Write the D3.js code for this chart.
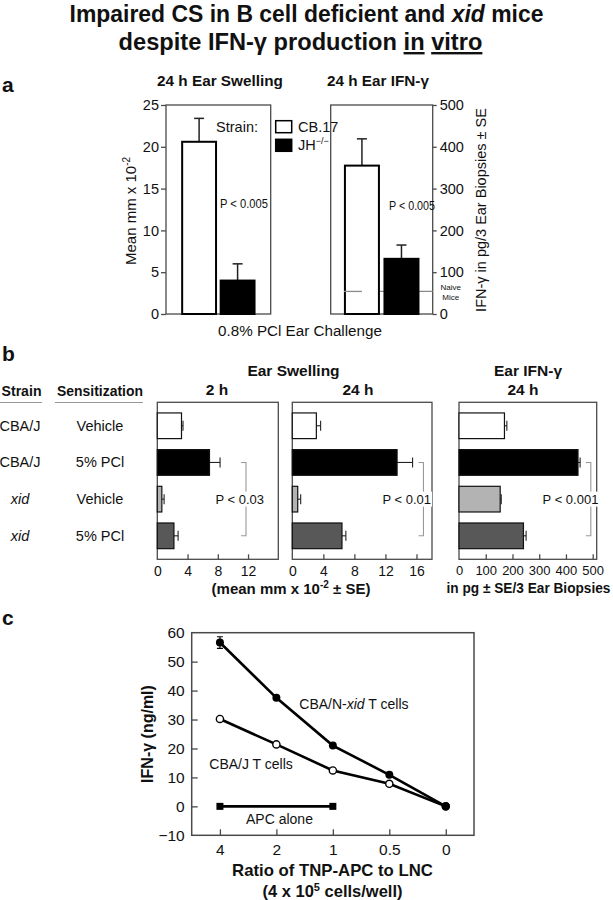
<!DOCTYPE html>
<html><head><meta charset="utf-8">
<script src="https://cdn.jsdelivr.net/npm/d3@7"></script>
<style>
body{margin:0;background:#fff}
svg{display:block}
text{font-family:"Liberation Sans",Arial,Helvetica,sans-serif;fill:#111}
</style>
</head><body>
<svg id="chart" width="613" height="900"></svg>
<script>
// ---------- DATA ----------
// Panel a
const aStrains = ["CB.17", "JH−/−"];
const aSwelling = [20.6, 4.0];
const aSwellingSE = [2.8, 2.0];
const aIFN = [355, 132];
const aIFNSE = [64, 33];
const aNaiveIFN = 54;
const aSwellTicks = [0, 5, 10, 15, 20, 25];
const aIFNTicks = [0, 100, 200, 300, 400, 500];

// Panel b
const bStrains = ["CBA/J", "CBA/J", "xid", "xid"];
const bSensitization = ["Vehicle", "5% PCl", "Vehicle", "5% PCl"];
const b2h = [3.2, 6.9, 0.6, 2.2];
const b2hSE = [0.2, 1.4, 0.3, 0.55];
const b24h = [3.1, 13.5, 0.7, 6.4];
const b24hSE = [0.55, 2.0, 0.38, 0.5];
const bIFN = [170, 445, 154, 241];
const bIFNSE = [9, 8, 4, 10];
const b2hTicks = [0, 4, 8, 12];
const b24hTicks = [0, 4, 8, 12, 16];
const bIFNTicks = [0, 100, 200, 300, 400, 500];
const bPvalues = ["P < 0.03", "P < 0.01", "P < 0.001"];

// Panel c
const cRatios = ["4", "2", "1", "0.5", "0"];
const cXid = [56.6, 37.5, 21.0, 10.9, 0];
const cXidSE = [2.0, 0, 0, 0, 0];
const cCBAJ = [30.2, 21.4, 12.4, 7.8, 0];
const cAPCRatios = ["4", "1"];
const cAPC = [0, 0];
const cYTicks = [-10, 0, 10, 20, 30, 40, 50, 60];

// ---------- DRAW ----------
const svg = d3.select("#chart");
const FRAME = "#4a4a4a";

// horizontally condense a text to a target width (keeps its anchor point fixed)
function fit(t, target) {
  const w = t.node().getComputedTextLength();
  if (!w) return t;
  const s = target / w;
  const x = +t.attr("x");
  t.attr("transform", `translate(${x},0) scale(${s},1) translate(${-x},0)`);
  return t;
}

function txt(x, y, s, size, opts = {}) {
  const t = svg.append("text").attr("x", x).attr("y", y)
    .style("font-size", size + "px")
    .attr("text-anchor", opts.anchor || "start");
  if (opts.bold) t.style("font-weight", "bold");
  if (opts.italic) t.style("font-style", "italic");
  if (s !== null) t.text(s);
  if (opts.len) fit(t, opts.len);
  return t;
}

// Title
const t1 = txt(306.5, 22, null, 24, {anchor: "middle", bold: true});
t1.append("tspan").text("Impaired CS in B cell deficient and ");
t1.append("tspan").style("font-style", "italic").text("xid");
t1.append("tspan").text(" mice");
fit(t1, 474);
const t2 = txt(300.5, 50, null, 24, {anchor: "middle", bold: true});
t2.append("tspan").text("despite IFN-γ production ");
t2.append("tspan").style("text-decoration", "underline").text("in");
t2.append("tspan").text(" ");
t2.append("tspan").style("text-decoration", "underline").text("vitro");
fit(t2, 364);

// Panel letters
txt(2, 92, "a", 21, {bold: true});
txt(2, 361, "b", 21, {bold: true});
txt(2, 625, "c", 21, {bold: true});

// ===== Panel a =====
const aTop = 105, aBot = 314;
const ayL = d3.scaleLinear().domain([0, 25]).range([aBot, aTop]);
const ayR = d3.scaleLinear().domain([0, 500]).range([aBot, aTop]);
const axL = d3.scaleBand().domain(aStrains).range([166, 270.7]).paddingInner(0.12).paddingOuter(0.42);
const axR = d3.scaleBand().domain(aStrains).range([330.7, 432.7]).paddingInner(0.14).paddingOuter(0.36);
const aFill = ["#fff", "#000"];

function aChart(xs, ys, vals, ses, side, ticks, naive) {
  const [x0, x1] = xs.range();
  svg.append("rect").attr("x", x0).attr("y", aTop).attr("width", x1 - x0).attr("height", aBot - aTop)
    .attr("fill", "none").attr("stroke", FRAME).attr("stroke-width", 1.3);
  const g = svg.append("g").attr("transform", `translate(${side === "left" ? x0 : x1},0)`);
  const axis = side === "left" ? d3.axisLeft(ys).tickSize(5).tickPadding(2) : d3.axisRight(ys).tickSize(4).tickPadding(3);
  g.call(axis.tickValues(ticks).tickFormat(d3.format("d")));
  g.select(".domain").remove();
  g.selectAll(".tick line").attr("stroke", FRAME).attr("stroke-width", 1.3);
  g.selectAll(".tick text").style("font-size", "14.5px").style("font-family", "'Liberation Sans',Arial,sans-serif").attr("fill", "#111");
  const dom = xs.domain();
  dom.forEach((k, i) => {
    const cx = xs(k) + xs.bandwidth() / 2;
    svg.append("line").attr("x1", cx).attr("x2", cx).attr("y1", ys(vals[i])).attr("y2", ys(vals[i] + ses[i]))
      .attr("stroke", "#222").attr("stroke-width", 1.5);
    svg.append("line").attr("x1", cx - 5).attr("x2", cx + 5).attr("y1", ys(vals[i] + ses[i])).attr("y2", ys(vals[i] + ses[i]))
      .attr("stroke", "#222").attr("stroke-width", 1.5);
  });
  svg.append("rect").attr("x", xs(dom[0])).attr("y", ys(vals[0])).attr("width", xs.bandwidth())
    .attr("height", aBot - ys(vals[0])).attr("fill", aFill[0]).attr("stroke", "#000").attr("stroke-width", 2);
  if (naive !== undefined) {
    const yN = ys(naive);
    const bx = xs(dom[0]), bw = xs.bandwidth();
    svg.append("line").attr("x1", bx - 1).attr("x2", bx + bw * 0.5).attr("y1", yN).attr("y2", yN)
      .attr("stroke", "#8a8a8a").attr("stroke-width", 1.3);
    svg.append("line").attr("x1", bx + bw + 1).attr("x2", x1).attr("y1", yN).attr("y2", yN)
      .attr("stroke", "#8a8a8a").attr("stroke-width", 1.3);
  }
  svg.append("rect").attr("x", xs(dom[1])).attr("y", ys(vals[1])).attr("width", xs.bandwidth())
    .attr("height", aBot - ys(vals[1])).attr("fill", aFill[1]).attr("stroke", "#000").attr("stroke-width", 2);
}
aChart(axL, ayL, aSwelling, aSwellingSE, "left", aSwellTicks);
aChart(axR, ayR, aIFN, aIFNSE, "right", aIFNTicks, aNaiveIFN);

txt(220, 86, "24 h  Ear Swelling", 15.5, {anchor: "middle", bold: true, len: 126});
txt(378, 86, "24 h  Ear IFN-γ", 15.5, {anchor: "middle", bold: true, len: 102});
txt(244, 208, "P < 0.005", 13, {anchor: "middle", len: 48});
txt(412, 210.5, "P < 0.005", 13, {anchor: "middle", len: 46});
txt(300, 336, "0.8% PCl Ear Challenge", 15.5, {anchor: "middle", len: 164});
txt(450.7, 289.5, "Naive", 8, {anchor: "middle"});
txt(450.7, 299.5, "Mice", 8, {anchor: "middle"});

// y labels panel a
const yl = svg.append("text").attr("transform", "translate(136,211) rotate(-90)")
  .attr("text-anchor", "middle").style("font-size", "15px");
yl.append("tspan").text("Mean mm x 10");
yl.append("tspan").attr("dy", -6).style("font-size", "10px").text("-2");
svg.append("text").attr("transform", "translate(486,210) rotate(-90)")
  .attr("text-anchor", "middle").style("font-size", "14.5px").text("IFN-γ in pg/3 Ear Biopsies ± SE");

// legend
txt(258, 132, "Strain:", 14.5, {anchor: "end"});
aStrains.forEach((s, i) => {
  const y = 120.7 + i * 18.6;
  svg.append("rect").attr("x", 275.7).attr("y", y).attr("width", 16).attr("height", 12)
    .attr("fill", aFill[i]).attr("stroke", "#000").attr("stroke-width", 1.5);
  const t = txt(298, y + 11, null, 14.5);
  if (i === 0) t.text(s);
  else {
    t.append("tspan").text("JH");
    t.append("tspan").attr("dy", -6).style("font-size", "9px").text("−/−");
  }
});

// ===== Panel b =====
const bTop = 402.3, bBot = 559.3;
const bIdx = d3.range(bStrains.length);
const by = d3.scaleBand().domain(bIdx).range([bTop, bBot]).paddingInner(0.3).paddingOuter(0.29);
const bFill = ["#fff", "#000", "#b3b3b3", "#585858"];

txt(21.5, 396.5, "Strain", 15.5, {anchor: "middle", bold: true, len: 40});
txt(100, 396.5, "Sensitization", 15.5, {anchor: "middle", bold: true, len: 86});
svg.append("line").attr("x1", 0).attr("x2", 42).attr("y1", 402.5).attr("y2", 402.5).attr("stroke", "#999").attr("stroke-width", 1.2);
svg.append("line").attr("x1", 55).attr("x2", 143).attr("y1", 402.5).attr("y2", 402.5).attr("stroke", "#999").attr("stroke-width", 1.2);
bIdx.forEach(i => {
  const cy = by(i) + by.bandwidth() / 2 + 5;
  txt(20, cy, bStrains[i], 14.5, {anchor: "middle", italic: bStrains[i] === "xid"});
  txt(100, cy, bSensitization[i], 14.5, {anchor: "middle"});
});

function bChart(domain, range, vals, ses, ticks, pText, bracketVal, textVal, tickFont) {
  const x = d3.scaleLinear().domain(domain).range(range);
  svg.append("rect").attr("x", range[0]).attr("y", bTop).attr("width", range[1] - range[0]).attr("height", bBot - bTop)
    .attr("fill", "none").attr("stroke", FRAME).attr("stroke-width", 1.3);
  const g = svg.append("g").attr("transform", `translate(0,${bBot})`);
  g.call(d3.axisBottom(x).tickValues(ticks).tickSizeInner(-5).tickSizeOuter(0).tickPadding(6.5).tickFormat(d3.format("d")));
  g.select(".domain").remove();
  g.selectAll(".tick line").attr("stroke", FRAME).attr("stroke-width", 1.3).filter(d => d === 0).remove();
  g.selectAll(".tick text").style("font-size", tickFont + "px").style("font-family", "'Liberation Sans',Arial,sans-serif").attr("fill", "#111");
  bIdx.forEach(i => {
    const cy = by(i) + by.bandwidth() / 2;
    svg.append("line").attr("x1", x(vals[i])).attr("x2", x(vals[i] + ses[i])).attr("y1", cy).attr("y2", cy)
      .attr("stroke", "#222").attr("stroke-width", 1.1);
    svg.append("line").attr("x1", x(vals[i] + ses[i])).attr("x2", x(vals[i] + ses[i])).attr("y1", cy - 5).attr("y2", cy + 5)
      .attr("stroke", "#222").attr("stroke-width", 1.1);
    svg.append("rect").attr("x", x(0)).attr("y", by(i)).attr("width", x(vals[i]) - x(0)).attr("height", by.bandwidth())
      .attr("fill", bFill[i]).attr("stroke", "#111").attr("stroke-width", 1.2);
  });
  const bx = x(bracketVal);
  const y1 = by(1) + by.bandwidth() / 2, y2 = by(3) + by.bandwidth() / 2;
  svg.append("path").attr("d", `M${bx - 5},${y1}H${bx}V${y2}H${bx - 5}`)
    .attr("fill", "none").attr("stroke", "#999").attr("stroke-width", 1.1);
  const cy = (by(2) + by.bandwidth() / 2);
  const t = txt(x(textVal), cy + 4.5, pText, 13, {anchor: "middle"});
  const bb = t.node().getBBox();
  svg.insert("rect", () => t.node()).attr("x", bb.x - 1).attr("y", bb.y).attr("width", bb.width + 2).attr("height", bb.height).attr("fill", "#fff");
}
bChart([0, 16], [157.3, 278.3], b2h, b2hSE, b2hTicks, bPvalues[0], 11.73, 10.9, 14);
bChart([0, 18], [292.3, 432], b24h, b24hSE, b24hTicks, bPvalues[1], 16.9, 14.75, 14);
bChart([0, 515], [459, 596.7], bIFN, bIFNSE, bIFNTicks, bPvalues[2], 493, 417, 13);

txt(293.5, 375.5, "Ear Swelling", 15.5, {anchor: "middle", bold: true});
txt(217, 395, "2 h", 15.5, {anchor: "middle", bold: true});
txt(358, 395, "24 h", 15.5, {anchor: "middle", bold: true});
txt(528, 375.5, "Ear IFN-γ", 15.5, {anchor: "middle", bold: true});
txt(523, 395, "24 h", 15.5, {anchor: "middle", bold: true});
const bl = txt(291, 593.5, null, 15, {anchor: "middle", bold: true});
bl.append("tspan").text("(mean mm x 10");
bl.append("tspan").attr("dy", -6).style("font-size", "10px").text("-2");
bl.append("tspan").attr("dy", 6).text(" ± SE)");
txt(528.5, 593.5, "in pg ± SE/3 Ear Biopsies", 15, {anchor: "middle", bold: true, len: 164});

// ===== Panel c =====
const cL = 191.7, cR = 474, cT = 632.7, cB = 835.3;
const cx = d3.scalePoint().domain(cRatios).range([cL, cR]).padding(0.5);
const cy = d3.scaleLinear().domain([-10, 60]).range([cB, cT]);
svg.append("rect").attr("x", cL).attr("y", cT).attr("width", cR - cL).attr("height", cB - cT)
  .attr("fill", "none").attr("stroke", FRAME).attr("stroke-width", 1.5);
const gy = svg.append("g").attr("transform", `translate(${cL},0)`)
  .call(d3.axisLeft(cy).tickValues(cYTicks).tickSizeInner(-6).tickSizeOuter(0).tickPadding(7).tickFormat(d => d < 0 ? "−" + Math.abs(d) : d));
const gx = svg.append("g").attr("transform", `translate(0,${cB})`)
  .call(d3.axisBottom(cx).tickSizeInner(-6).tickSizeOuter(0).tickPadding(8.5));
[gy, gx].forEach(g => {
  g.select(".domain").remove();
  g.selectAll(".tick line").attr("stroke", FRAME).attr("stroke-width", 1.3);
  g.selectAll(".tick text").style("font-size", "15.5px").style("font-family", "'Liberation Sans',Arial,sans-serif").attr("fill", "#111");
});
gy.selectAll(".tick line").filter(d => d === -10 || d === 60).remove();

const line = d3.line().x(d => cx(d[0])).y(d => cy(d[1]));
const xidPts = cRatios.map((r, i) => [r, cXid[i]]);
const cbaPts = cRatios.map((r, i) => [r, cCBAJ[i]]);
const apcPts = cAPCRatios.map((r, i) => [r, cAPC[i]]);
[apcPts, cbaPts, xidPts].forEach(p => {
  svg.append("path").attr("d", line(p)).attr("fill", "none").attr("stroke", "#000").attr("stroke-width", 2.6);
});
xidPts.forEach((p, i) => {
  if (!cXidSE[i]) return;
  const X = cx(p[0]);
  svg.append("path").attr("d", `M${X - 3},${cy(p[1] + cXidSE[i])}H${X + 3}M${X},${cy(p[1] + cXidSE[i])}V${cy(p[1] - cXidSE[i])}M${X - 3},${cy(p[1] - cXidSE[i])}H${X + 3}`)
    .attr("stroke", "#000").attr("stroke-width", 1.2).attr("fill", "none");
});
cbaPts.forEach(p => svg.append("circle").attr("cx", cx(p[0])).attr("cy", cy(p[1])).attr("r", 3.6)
  .attr("fill", "#fff").attr("stroke", "#000").attr("stroke-width", 1.4));
xidPts.forEach(p => svg.append("circle").attr("cx", cx(p[0])).attr("cy", cy(p[1])).attr("r", 4)
  .attr("fill", "#000"));
apcPts.forEach(p => svg.append("rect").attr("x", cx(p[0]) - 3.5).attr("y", cy(p[1]) - 3.5).attr("width", 7).attr("height", 7)
  .attr("fill", "#000"));

const l1 = txt(299.3, 709, null, 14);
l1.append("tspan").text("CBA/N-");
l1.append("tspan").style("font-style", "italic").text("xid");
l1.append("tspan").text(" T cells");
txt(209.3, 769, "CBA/J T cells", 14);
txt(246, 824, "APC alone", 14);

svg.append("text").attr("transform", "translate(153,734) rotate(-90)")
  .attr("text-anchor", "middle").style("font-size", "16px").style("font-weight", "bold").text("IFN-γ (ng/ml)");
txt(332.5, 876.5, "Ratio of TNP-APC to LNC", 16.5, {anchor: "middle", bold: true, len: 201});
const cl2 = txt(332.5, 897, null, 16.5, {anchor: "middle", bold: true});
cl2.append("tspan").text("(4 x 10");
cl2.append("tspan").attr("dy", -6).style("font-size", "11px").text("5");
cl2.append("tspan").attr("dy", 6).text(" cells/well)");
</script>
</body></html>
